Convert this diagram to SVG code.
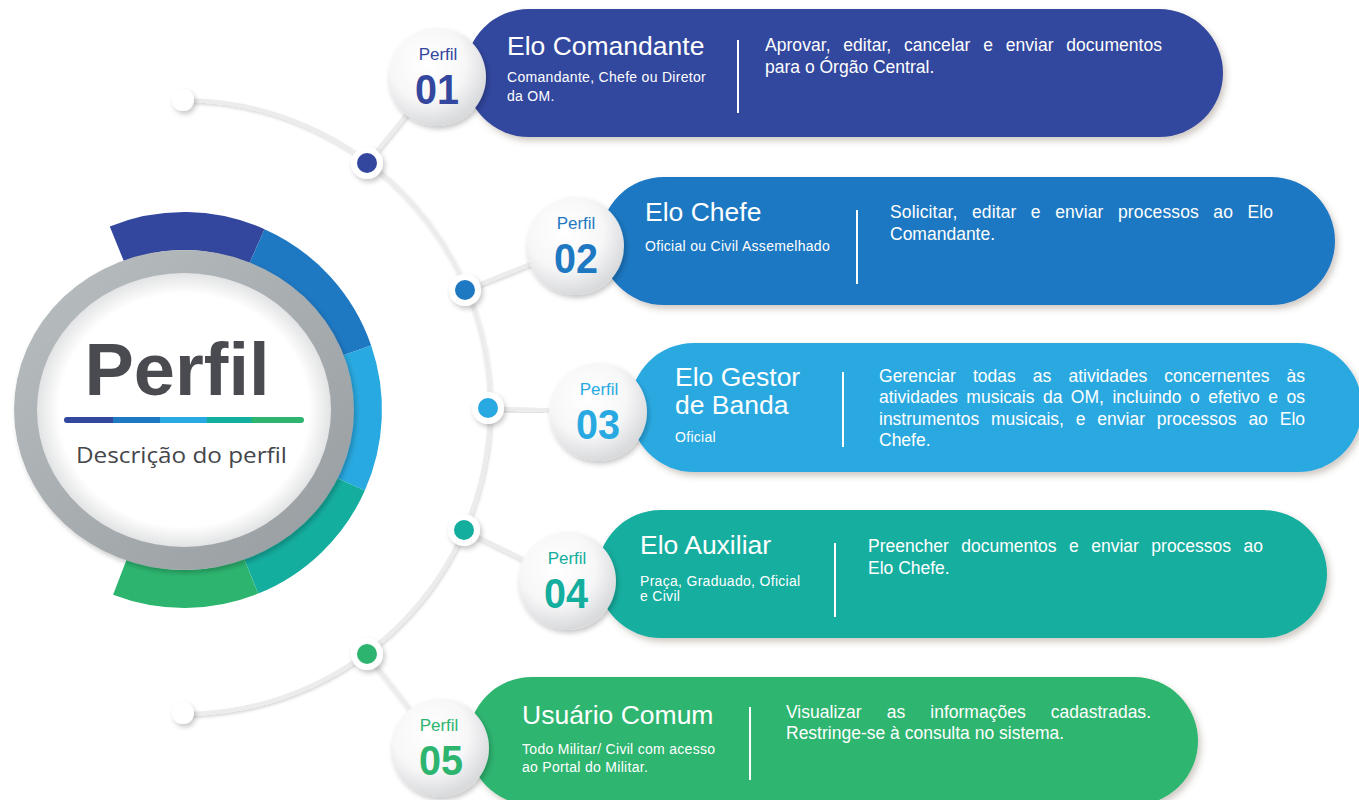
<svg xmlns="http://www.w3.org/2000/svg" width="1359" height="800" viewBox="0 0 1359 800">
<defs>
  <filter id="sh" x="-20%" y="-30%" width="140%" height="160%">
    <feDropShadow dx="3" dy="4" stdDeviation="3" flood-color="#5a3f30" flood-opacity="0.28"/>
  </filter>
  <filter id="shs" x="-50%" y="-50%" width="200%" height="200%">
    <feDropShadow dx="2" dy="3" stdDeviation="2.5" flood-color="#000" flood-opacity="0.22"/>
  </filter>
  <filter id="shl" x="-10%" y="-10%" width="120%" height="120%">
    <feDropShadow dx="1" dy="2" stdDeviation="1.5" flood-color="#000" flood-opacity="0.16"/>
  </filter>
  <radialGradient id="bub" cx="40%" cy="35%" r="65%">
    <stop offset="0" stop-color="#ffffff"/>
    <stop offset="0.6" stop-color="#f7f7f8"/>
    <stop offset="1" stop-color="#d9dadc"/>
  </radialGradient>
  <radialGradient id="inner" cx="50%" cy="50%" r="50%">
    <stop offset="0.85" stop-color="#ffffff"/>
    <stop offset="1" stop-color="#e2e3e4"/>
  </radialGradient>
  <linearGradient id="ring" x1="0" y1="0" x2="1" y2="1">
    <stop offset="0" stop-color="#b9bfc1"/>
    <stop offset="1" stop-color="#969c9f"/>
  </linearGradient>
  <style>
    .ban { filter: url(#sh); }
    .t { font-family: "Liberation Sans", Arial, sans-serif; fill: #ffffff; }
    .title { font-size: 26.5px; }
    .sub { font-size: 14px; letter-spacing: 0.3px; }
    .desc { font-size: 17.5px; }
    .div { stroke: #ffffff; stroke-width: 2; }
    .pf { font-family: "Liberation Sans", Arial, sans-serif; font-size: 17px; text-anchor: middle; }
    .num { font-family: "Liberation Sans", Arial, sans-serif; font-size: 42px; font-weight: bold; text-anchor: middle; }
    .line { fill: none; stroke: #ececee; stroke-width: 4; filter: url(#shl); }
    .seg { fill: none; stroke-width: 38; }
  </style>
</defs>
<rect width="1359" height="800" fill="#ffffff"/>

<!-- connectors -->
<g id="connectors">
  <path class="line" d="M183,100 A307,307 0 0 1 183,714"/>
  <line class="line" x1="367" y1="163" x2="437" y2="77"/>
  <line class="line" x1="465" y1="290" x2="575" y2="246"/>
  <line class="line" x1="488" y1="408" x2="598" y2="412"/>
  <line class="line" x1="464" y1="530" x2="567" y2="581"/>
  <line class="line" x1="367" y1="654" x2="440" y2="748"/>
  <circle cx="183" cy="100" r="11" fill="#ffffff" filter="url(#shs)"/>
  <circle cx="183" cy="713" r="11" fill="#ffffff" filter="url(#shs)"/>
  <circle cx="367" cy="163" r="16" fill="#ffffff" filter="url(#shs)"/>
  <circle cx="367" cy="163" r="10" fill="#33479e"/>
  <circle cx="465" cy="290" r="16" fill="#ffffff" filter="url(#shs)"/>
  <circle cx="465" cy="290" r="10" fill="#1e78c2"/>
  <circle cx="488" cy="408" r="16" fill="#ffffff" filter="url(#shs)"/>
  <circle cx="488" cy="408" r="10" fill="#29a9e1"/>
  <circle cx="464" cy="530" r="16" fill="#ffffff" filter="url(#shs)"/>
  <circle cx="464" cy="530" r="10" fill="#14ae9f"/>
  <circle cx="367" cy="654" r="16" fill="#ffffff" filter="url(#shs)"/>
  <circle cx="367" cy="654" r="10" fill="#2db56f"/>
</g>

<!-- central circle -->
<g id="center">
  <path class="seg" stroke="#33479e" d="M116.9,244.0 A179,179 0 0 1 256.8,246.5"/>
  <path class="seg" stroke="#1e78c2" d="M256.8,246.5 A179,179 0 0 1 353.2,351.7"/>
  <path class="seg" stroke="#29a9e1" d="M353.2,351.7 A179,179 0 0 1 347.5,482.8"/>
  <path class="seg" stroke="#14ae9f" d="M347.5,482.8 A179,179 0 0 1 251.1,576.0"/>
  <path class="seg" stroke="#2db56f" d="M251.1,576.0 A179,179 0 0 1 119.9,577.1"/>
  <ellipse cx="184" cy="410" rx="170" ry="160" fill="url(#ring)" filter="url(#shs)"/>
  <ellipse cx="184" cy="410" rx="147" ry="137" fill="url(#inner)"/>
  <text x="177" y="395" text-anchor="middle" font-family="Liberation Sans, Arial, sans-serif" font-weight="bold" font-size="74" fill="#4a4b50">Perfil</text>
  <g stroke-width="6" stroke-linecap="round">
    <line x1="67" y1="420" x2="113" y2="420" stroke="#33479e"/>
    <line x1="113" y1="420" x2="160" y2="420" stroke="#1e78c2" stroke-linecap="butt"/>
    <line x1="160" y1="420" x2="207" y2="420" stroke="#29a9e1" stroke-linecap="butt"/>
    <line x1="207" y1="420" x2="254" y2="420" stroke="#14ae9f" stroke-linecap="butt"/>
    <line x1="254" y1="420" x2="301" y2="420" stroke="#2db56f"/>
  </g>
  <text x="76" y="463" font-family="Open Sans, Liberation Sans, sans-serif" font-size="22.5" fill="#45464b" textLength="211" lengthAdjust="spacingAndGlyphs">Descrição do perfil</text>
</g>

<!-- Perfil 01 -->
<g id="perfil1">
  <rect class="ban" x="465" y="9" width="758" height="128" rx="64" fill="#33479e"/>
  <text class="t title" x="507" y="55">Elo Comandante</text>
  <text class="t sub" x="507" y="82">Comandante, Chefe ou Diretor</text>
  <text class="t sub" x="507" y="101">da OM.</text>
  <line class="div" x1="738" y1="40" x2="738" y2="113"/>
  <text class="t desc" x="765" y="51" word-spacing="7.8" textLength="397" lengthAdjust="spacing">Aprovar, editar, cancelar e enviar documentos</text>
  <text class="t desc" x="765" y="73">para o Órgão Central.</text>
  <circle cx="437" cy="77" r="49" fill="url(#bub)" filter="url(#shs)"/>
  <text class="pf" x="438" y="60" fill="#33479e">Perfil</text>
  <text class="num" x="437" y="104" fill="#33479e" textLength="44" lengthAdjust="spacingAndGlyphs">01</text>
</g>

<!-- Perfil 02 -->
<g id="perfil2">
  <rect class="ban" x="600" y="177" width="735" height="128" rx="64" fill="#1e78c2"/>
  <text class="t title" x="645" y="221">Elo Chefe</text>
  <text class="t sub" x="645" y="251">Oficial ou Civil Assemelhado</text>
  <line class="div" x1="857" y1="210" x2="857" y2="284"/>
  <text class="t desc" x="890" y="218" word-spacing="9.4" textLength="383" lengthAdjust="spacing">Solicitar, editar e enviar processos ao Elo</text>
  <text class="t desc" x="890" y="240">Comandante.</text>
  <circle cx="575" cy="246" r="49" fill="url(#bub)" filter="url(#shs)"/>
  <text class="pf" x="576" y="229" fill="#1e78c2">Perfil</text>
  <text class="num" x="576" y="273" fill="#1e78c2" textLength="44" lengthAdjust="spacingAndGlyphs">02</text>
</g>

<!-- Perfil 03 -->
<g id="perfil3">
  <rect class="ban" x="630" y="343" width="732" height="129" rx="64" fill="#29a9e1"/>
  <text class="t title" x="675" y="386">Elo Gestor</text>
  <text class="t title" x="675" y="414">de Banda</text>
  <text class="t sub" x="675" y="442">Oficial</text>
  <line class="div" x1="843" y1="372" x2="843" y2="447"/>
  <text class="t desc" x="879" y="382" word-spacing="12.2" textLength="426" lengthAdjust="spacing">Gerenciar todas as atividades concernentes às</text>
  <text class="t desc" x="879" y="403" word-spacing="3.6" textLength="426" lengthAdjust="spacing">atividades musicais da OM, incluindo o efetivo e os</text>
  <text class="t desc" x="879" y="425" word-spacing="7" textLength="426" lengthAdjust="spacing">instrumentos musicais, e enviar processos ao Elo</text>
  <text class="t desc" x="879" y="446">Chefe.</text>
  <circle cx="598" cy="412" r="49" fill="url(#bub)" filter="url(#shs)"/>
  <text class="pf" x="599" y="395" fill="#29a9e1">Perfil</text>
  <text class="num" x="598" y="439" fill="#29a9e1" textLength="44" lengthAdjust="spacingAndGlyphs">03</text>
</g>

<!-- Perfil 04 -->
<g id="perfil4">
  <rect class="ban" x="597" y="510" width="730" height="128" rx="64" fill="#14ae9f"/>
  <text class="t title" x="640" y="554">Elo Auxiliar</text>
  <text class="t sub" x="640" y="586">Praça, Graduado, Oficial</text>
  <text class="t sub" x="640" y="601">e Civil</text>
  <line class="div" x1="835" y1="543" x2="835" y2="617"/>
  <text class="t desc" x="868" y="552" word-spacing="7.6" textLength="395" lengthAdjust="spacing">Preencher documentos e enviar processos ao</text>
  <text class="t desc" x="868" y="574">Elo Chefe.</text>
  <circle cx="567" cy="581" r="49" fill="url(#bub)" filter="url(#shs)"/>
  <text class="pf" x="567" y="564" fill="#14ae9f">Perfil</text>
  <text class="num" x="566" y="608" fill="#14ae9f" textLength="44" lengthAdjust="spacingAndGlyphs">04</text>
</g>

<!-- Perfil 05 -->
<g id="perfil5">
  <rect class="ban" x="468" y="677" width="730" height="128" rx="64" fill="#2db56f"/>
  <text class="t title" x="522" y="724">Usuário Comum</text>
  <text class="t sub" x="522" y="754">Todo Militar/ Civil com acesso</text>
  <text class="t sub" x="522" y="772">ao Portal do Militar.</text>
  <line class="div" x1="750" y1="707" x2="750" y2="780"/>
  <text class="t desc" x="786" y="718" word-spacing="20.2" textLength="365" lengthAdjust="spacing">Visualizar as informações cadastradas.</text>
  <text class="t desc" x="786" y="739">Restringe-se à consulta no sistema.</text>
  <circle cx="440" cy="748" r="49" fill="url(#bub)" filter="url(#shs)"/>
  <text class="pf" x="439" y="731" fill="#2db56f">Perfil</text>
  <text class="num" x="441" y="775" fill="#2db56f" textLength="44" lengthAdjust="spacingAndGlyphs">05</text>
</g>
</svg>
